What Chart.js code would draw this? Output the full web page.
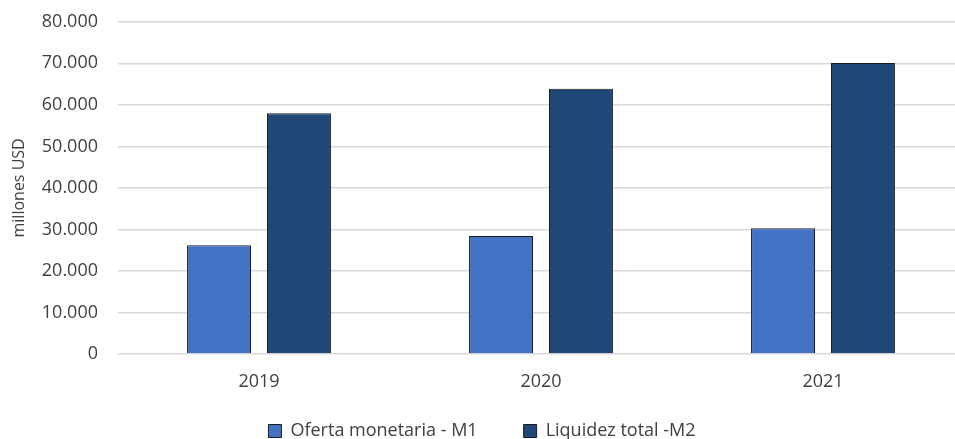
<!DOCTYPE html>
<html>
<head>
<meta charset="utf-8">
<script src="https://cdn.jsdelivr.net/npm/chart.js@4.4.1/dist/chart.umd.min.js"></script>
<style>
  html, body { margin: 0; padding: 0; background: #fff; overflow: hidden; }
  #wrap { position: relative; top: -9px; width: 964px; height: 448px; }
</style>
</head>
<body>
<div id="wrap"><canvas id="grafico"></canvas></div>
<script>
// Datos (millones USD)
const anios = ["2019", "2020", "2021"];
const ofertaM1 = [26200, 28400, 30300];
const liquidezM2 = [58000, 63900, 70100];

const FUENTE = "'Open Sans', 'Segoe UI', sans-serif";
const GRIS_TEXTO = "#404040";

const fmt = (v) => v.toLocaleString("de-DE");

new Chart(document.getElementById("grafico"), {
    type: "bar",
    data: {
        labels: anios,
        datasets: [
            {
                label: "Oferta monetaria - M1",
                data: ofertaM1,
                backgroundColor: "#4472C4",
                borderColor: "#1b1b1b",
                borderWidth: 1,
            },
            {
                label: "Liquidez total -M2",
                data: liquidezM2,
                backgroundColor: "#1F4778",
                borderColor: "#1b1b1b",
                borderWidth: 1,
            },
        ],
    },
    options: {
        responsive: true,
        maintainAspectRatio: false,
        animation: false,
        datasets: { bar: { categoryPercentage: 0.567, barPercentage: 0.8 } },
        layout: { padding: { top: 0, left: 0, right: 0, bottom: -11 } },
        plugins: {
            tooltip: { enabled: false },
            legend: {
                position: "bottom",
                labels: {
                    color: GRIS_TEXTO,
                    font: { family: FUENTE, size: 18 },
                    boxWidth: 13,
                    boxHeight: 13,
                    padding: 28,
                    // espacio extra entre las dos entradas, como en el original
                    generateLabels: (chart) => {
                        const base = Chart.defaults.plugins.legend.labels.generateLabels(chart);
                        base.forEach((it, i) => {
                            if (i < base.length - 1) it.text += "\u2002\u2002";
                        });
                        return base;
                    },
                },
            },
        },
        scales: {
            x: {
                grid: { display: false, drawTicks: false },
                border: { display: false },
                ticks: { color: GRIS_TEXTO, font: { family: FUENTE, size: 18 }, padding: 17 },
                afterFit: (eje) => { eje.height = 40; },
            },
            y: {
                min: 0,
                max: 80000,
                ticks: {
                    stepSize: 10000,
                    color: GRIS_TEXTO,
                    font: { family: FUENTE, size: 18 },
                    padding: 20,
                    callback: (v) => fmt(v),
                },
                grid: { color: "#d9d9d9", lineWidth: 1.5, drawTicks: false },
                border: { display: false },
                title: {
                    display: true,
                    text: "millones USD",
                    color: GRIS_TEXTO,
                    font: { family: FUENTE, size: 16 },
                    padding: { top: 10, bottom: 0 },
                },
                afterFit: (eje) => { eje.width = 118; },
            },
        },
    },
});
</script>
</body>
</html>
